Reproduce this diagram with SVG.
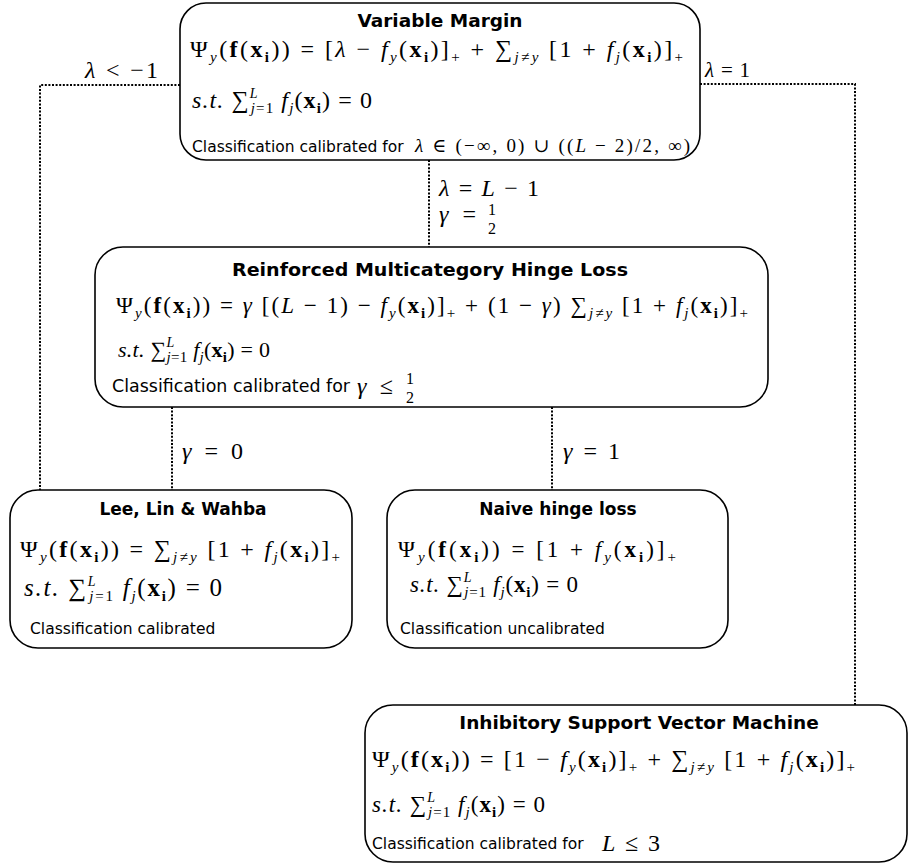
<svg xmlns="http://www.w3.org/2000/svg" width="911" height="867" viewBox="0 0 911 867">
<style>
.box{fill:#fff;stroke:#000;stroke-width:1.6}
.con{fill:none;stroke:#000;stroke-width:2;stroke-dasharray:2 1.6}
.t{font-family:"DejaVu Sans","Liberation Sans",sans-serif;font-weight:bold;font-size:17px;text-anchor:middle}
.c{font-family:"DejaVu Sans","Liberation Sans",sans-serif;font-size:15.5px}
.m{font-family:"Liberation Serif","DejaVu Serif",serif;font-size:22px}
.i{font-style:italic}
.b{font-weight:bold}
.sb{font-size:15px;baseline-shift:-5px}
.sp{font-size:14px;baseline-shift:10px}
.fr{font-size:16px;text-anchor:middle}
</style>
<g id="connectors">
<path class="con" d="M180,85 H40 V490"/>
<path class="con" d="M700,84 H855 V705"/>
<path class="con" d="M429,160 V247"/>
<path class="con" d="M172,407 V490"/>
<path class="con" d="M552,407 V490"/>
<text class="m" x="85" y="78" style="font-size:24px" textLength="73" lengthAdjust="spacing"><tspan class="i">λ</tspan> &lt; −1</text>
<text class="m" x="705" y="77" style="font-size:21px" textLength="45" lengthAdjust="spacing"><tspan class="i">λ</tspan> = 1</text>
<text class="m" x="439" y="196" style="font-size:24px" textLength="100" lengthAdjust="spacing"><tspan class="i">λ</tspan> = <tspan class="i">L</tspan> − 1</text>
<text class="m" x="439" y="222" style="font-size:24px" textLength="37" lengthAdjust="spacing"><tspan class="i">γ</tspan> =</text>
<text class="m fr" x="492" y="215">1</text>
<text class="m fr" x="492" y="234">2</text>
<text class="m" x="182" y="459" style="font-size:24px" textLength="61" lengthAdjust="spacing"><tspan class="i">γ</tspan> = 0</text>
<text class="m" x="563" y="459" style="font-size:24px" textLength="57" lengthAdjust="spacing"><tspan class="i">γ</tspan> = 1</text>
</g>
<g id="variable-margin">
<rect class="box" x="180" y="3" width="520" height="157" rx="26"/>
<text class="t" x="440" y="27" style="font-size:18.5px">Variable Margin</text>
<text class="m" x="190" y="57" style="font-size:24px" textLength="493" lengthAdjust="spacing">Ψ<tspan class="sb i">y</tspan>(<tspan class="b">f</tspan>(<tspan class="b">x</tspan><tspan class="sb b">i</tspan>)) = [<tspan class="i">λ</tspan> − <tspan class="i">f</tspan><tspan class="sb i">y</tspan>(<tspan class="b">x</tspan><tspan class="sb b">i</tspan>)]<tspan class="sb">+</tspan> + ∑<tspan class="sb i">j≠y</tspan> [1 + <tspan class="i">f</tspan><tspan class="sb i">j</tspan>(<tspan class="b">x</tspan><tspan class="sb b">i</tspan>)]<tspan class="sb">+</tspan></text>
<text class="m" x="192" y="108" style="font-size:24px" textLength="180" lengthAdjust="spacing"><tspan class="i">s.t.</tspan> ∑<tspan class="sp i">L</tspan><tspan class="sb" dx="-8"><tspan class="i">j</tspan>=1</tspan> <tspan class="i">f</tspan><tspan class="sb i">j</tspan>(<tspan class="b">x</tspan><tspan class="sb b">i</tspan>) = 0</text>
<text class="c" x="192" y="152">Classification calibrated for</text>
<text class="m" x="415" y="152" style="font-size:19px" textLength="275" lengthAdjust="spacing"><tspan class="i">λ</tspan> ∈ (−∞, 0) ∪ ((<tspan class="i">L</tspan> − 2)/2, ∞)</text>
</g>
<g id="reinforced">
<rect class="box" x="95" y="247" width="673" height="160" rx="28"/>
<text class="t" x="430" y="276" style="font-size:18.5px" textLength="396" lengthAdjust="spacingAndGlyphs">Reinforced Multicategory Hinge Loss</text>
<text class="m" x="116" y="313" style="font-size:23px" textLength="632" lengthAdjust="spacing">Ψ<tspan class="sb i">y</tspan>(<tspan class="b">f</tspan>(<tspan class="b">x</tspan><tspan class="sb b">i</tspan>)) = <tspan class="i">γ</tspan> [(<tspan class="i">L</tspan> − 1) − <tspan class="i">f</tspan><tspan class="sb i">y</tspan>(<tspan class="b">x</tspan><tspan class="sb b">i</tspan>)]<tspan class="sb">+</tspan> + (1 − <tspan class="i">γ</tspan>) ∑<tspan class="sb i">j≠y</tspan> [1 + <tspan class="i">f</tspan><tspan class="sb i">j</tspan>(<tspan class="b">x</tspan><tspan class="sb b">i</tspan>)]<tspan class="sb">+</tspan></text>
<text class="m" x="118" y="357" textLength="152" lengthAdjust="spacing"><tspan class="i">s.t.</tspan> ∑<tspan class="sp i">L</tspan><tspan class="sb" dx="-8"><tspan class="i">j</tspan>=1</tspan> <tspan class="i">f</tspan><tspan class="sb i">j</tspan>(<tspan class="b">x</tspan><tspan class="sb b">i</tspan>) = 0</text>
<text class="c" x="112" y="392" style="font-size:17px" textLength="238" lengthAdjust="spacingAndGlyphs">Classification calibrated for</text>
<text class="m" x="357" y="394" style="font-size:24px" textLength="36" lengthAdjust="spacing"><tspan class="i">γ</tspan> ≤</text>
<text class="m fr" x="410" y="384">1</text>
<text class="m fr" x="410" y="403">2</text>
</g>
<g id="lee-lin-wahba">
<rect class="box" x="10" y="490" width="342" height="158" rx="28"/>
<text class="t" x="183" y="515">Lee, Lin &amp; Wahba</text>
<text class="m" x="20" y="557" style="font-size:24px" textLength="320" lengthAdjust="spacing">Ψ<tspan class="sb i">y</tspan>(<tspan class="b">f</tspan>(<tspan class="b">x</tspan><tspan class="sb b">i</tspan>)) = ∑<tspan class="sb i">j≠y</tspan> [1 + <tspan class="i">f</tspan><tspan class="sb i">j</tspan>(<tspan class="b">x</tspan><tspan class="sb b">i</tspan>)]<tspan class="sb">+</tspan></text>
<text class="m" x="24" y="596" style="font-size:25px" textLength="198" lengthAdjust="spacing"><tspan class="i">s.t.</tspan> ∑<tspan class="sp i">L</tspan><tspan class="sb" dx="-8"><tspan class="i">j</tspan>=1</tspan> <tspan class="i">f</tspan><tspan class="sb i">j</tspan>(<tspan class="b">x</tspan><tspan class="sb b">i</tspan>) = 0</text>
<text class="c" x="30" y="634">Classification calibrated</text>
</g>
<g id="naive-hinge">
<rect class="box" x="387" y="490" width="341" height="158" rx="28"/>
<text class="t" x="558" y="515">Naive hinge loss</text>
<text class="m" x="398" y="557" style="font-size:23px" textLength="278" lengthAdjust="spacing">Ψ<tspan class="sb i">y</tspan>(<tspan class="b">f</tspan>(<tspan class="b">x</tspan><tspan class="sb b">i</tspan>)) = [1 + <tspan class="i">f</tspan><tspan class="sb i">y</tspan>(<tspan class="b">x</tspan><tspan class="sb b">i</tspan>)]<tspan class="sb">+</tspan></text>
<text class="m" x="410" y="592" style="font-size:23px" textLength="168" lengthAdjust="spacing"><tspan class="i">s.t.</tspan> ∑<tspan class="sp i">L</tspan><tspan class="sb" dx="-8"><tspan class="i">j</tspan>=1</tspan> <tspan class="i">f</tspan><tspan class="sb i">j</tspan>(<tspan class="b">x</tspan><tspan class="sb b">i</tspan>) = 0</text>
<text class="c" x="400" y="634">Classification uncalibrated</text>
</g>
<g id="isvm">
<rect class="box" x="365" y="705" width="542" height="157" rx="28"/>
<text class="t" x="639" y="729" style="font-size:18.5px">Inhibitory Support Vector Machine</text>
<text class="m" x="372" y="767" style="font-size:24px" textLength="483" lengthAdjust="spacing">Ψ<tspan class="sb i">y</tspan>(<tspan class="b">f</tspan>(<tspan class="b">x</tspan><tspan class="sb b">i</tspan>)) = [1 − <tspan class="i">f</tspan><tspan class="sb i">y</tspan>(<tspan class="b">x</tspan><tspan class="sb b">i</tspan>)]<tspan class="sb">+</tspan> + ∑<tspan class="sb i">j≠y</tspan> [1 + <tspan class="i">f</tspan><tspan class="sb i">j</tspan>(<tspan class="b">x</tspan><tspan class="sb b">i</tspan>)]<tspan class="sb">+</tspan></text>
<text class="m" x="372" y="812" style="font-size:23px" textLength="173" lengthAdjust="spacing"><tspan class="i">s.t.</tspan> ∑<tspan class="sp i">L</tspan><tspan class="sb" dx="-8"><tspan class="i">j</tspan>=1</tspan> <tspan class="i">f</tspan><tspan class="sb i">j</tspan>(<tspan class="b">x</tspan><tspan class="sb b">i</tspan>) = 0</text>
<text class="c" x="372" y="849">Classification calibrated for</text>
<text class="m" x="602" y="851" style="font-size:24px" textLength="58" lengthAdjust="spacing"><tspan class="i">L</tspan> ≤ 3</text>
</g>
</svg>
